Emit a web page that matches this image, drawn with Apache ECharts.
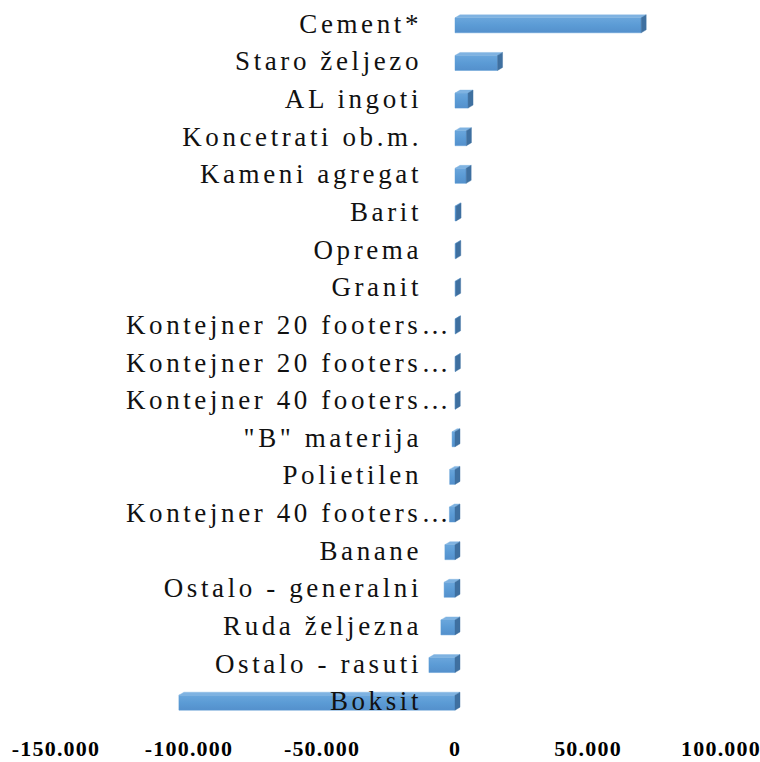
<!DOCTYPE html>
<html>
<head>
<meta charset="utf-8">
<script src="https://cdn.jsdelivr.net/npm/echarts@6/dist/echarts.min.js"></script>
<style>
html,body{margin:0;padding:0;background:#fff;}
#chart{width:760px;height:762px;}
#chart text[style*="27px"]{letter-spacing:3.6px;}
#chart text[style*="22px"]{letter-spacing:1.2px;}
</style>
</head>
<body>
<div id="chart"></div>
<script>
// ---- data ----
const categories = [
  'Cement*',
  'Staro željezo',
  'AL ingoti',
  'Koncetrati ob.m.',
  'Kameni agregat',
  'Barit',
  'Oprema',
  'Granit',
  'Kontejner 20 footers…',
  'Kontejner 20 footers…',
  'Kontejner 40 footers…',
  '"B" materija',
  'Polietilen',
  'Kontejner 40 footers…',
  'Banane',
  'Ostalo - generalni',
  'Ruda željezna',
  'Ostalo - rasuti',
  'Boksit'
];
const values = [
  70000, 16000, 4900, 4300, 4200, 400, 300, 250, 200, 150, 100,
  -1100, -2000, -2100, -3800, -4100, -5300, -9800, -103800
];
const axisMin = -150000;
const axisMax = 100000;
const axisStep = 50000;

// ---- layout ----
const W = 760;
const gridLeft = 56, gridRight = 39, gridTop = 5, gridBottom = 42;
// shift the category axis from the grid's left edge to x = 0 of the value axis
const zeroOffset = (0 - axisMin) / (axisMax - axisMin) * (W - gridLeft - gridRight);

const chart = echarts.init(document.getElementById('chart'), null, {renderer: 'svg'});

function fmt(v) {
  const s = Math.abs(v).toString().replace(/\B(?=(\d{3})+(?!\d))/g, '.');
  return (v < 0 ? '-' : '') + s;
}

function renderItem(params, api) {
  const v = api.value(0);
  const idx = api.value(1);
  const a = api.coord([0, idx]);
  const b = api.coord([v, idx]);
  const h = 15, dx = 5, dy = 3;
  const xl = Math.min(a[0], b[0]);
  const xr = Math.max(a[0], b[0]);
  const yf = a[1] - 6;
  return {
    type: 'group',
    children: [
      {
        type: 'rect',
        shape: {x: xl, y: yf, width: Math.max(xr - xl, 0.5), height: h},
        style: {
          fill: new echarts.graphic.LinearGradient(0, 0, 0, 1, [
            {offset: 0, color: '#6aa6dc'},
            {offset: 0.5, color: '#5b9bd5'},
            {offset: 1, color: '#5490cc'}
          ]),
          stroke: 'rgba(91,155,213,0.45)', lineWidth: 1
        }
      },
      {
        type: 'polygon',
        shape: {points: [[xl, yf], [xr, yf], [xr + dx, yf - dy], [xl + dx, yf - dy]]},
        style: {fill: '#7fb3e2', stroke: 'rgba(127,179,226,0.5)', lineWidth: 0.8}
      },
      {
        type: 'polygon',
        shape: {points: [[xr, yf], [xr + dx, yf - dy], [xr + dx, yf - dy + h], [xr, yf + h]]},
        style: {fill: '#3f70a0', stroke: 'rgba(63,112,160,0.5)', lineWidth: 0.8}
      }
    ]
  };
}

chart.setOption({
  backgroundColor: '#ffffff',
  animation: false,
  grid: {left: gridLeft, right: gridRight, top: gridTop, bottom: gridBottom, containLabel: false, outerBoundsMode: 'none'},
  xAxis: {
    type: 'value',
    min: axisMin,
    max: axisMax,
    interval: axisStep,
    axisLine: {show: false},
    axisTick: {show: false},
    splitLine: {show: false},
    axisLabel: {
      margin: 17,
      color: '#000',
      fontSize: 22,
      fontWeight: 'bold',
      fontFamily: 'Liberation Serif',
      hideOverlap: false,
      formatter: fmt
    }
  },
  yAxis: {
    type: 'category',
    inverse: true,
    position: 'left',
    offset: -zeroOffset,
    z: 10,
    data: categories,
    axisLine: {show: false, onZero: false},
    axisTick: {show: false},
    splitLine: {show: false},
    axisLabel: {
      interval: 0,
      margin: 0,
      color: '#111',
      fontSize: 27,
      fontFamily: 'Liberation Serif',
      hideOverlap: false,
      formatter: function (v) {
        return v.indexOf('…') >= 0 ? '{e|' + v + '}' : '{n|' + v + '}';
      },
      rich: {
        n: {fontSize: 27, fontFamily: 'Liberation Serif', color: '#111', padding: [0, 33, 0, 0]},
        e: {fontSize: 27, fontFamily: 'Liberation Serif', color: '#111', padding: [0, 3, 0, 0]}
      }
    }
  },
  series: [{
    type: 'custom',
    renderItem: renderItem,
    encode: {x: 0, y: 1},
    z: 2,
    data: values.map(function (v, i) { return [v, i]; })
  }]
});
</script>
</body>
</html>
